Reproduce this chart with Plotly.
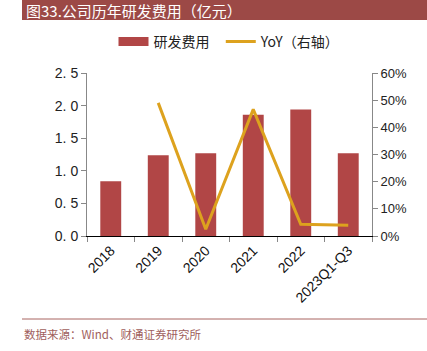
import plotly.graph_objects as go

categories = ["2018", "2019", "2020", "2021", "2022", "2023Q1-Q3"]
rd_expense = [0.84, 1.24, 1.27, 1.86, 1.94, 1.27]
yoy_cats = ["2019", "2020", "2021", "2022", "2023Q1-Q3"]
yoy_pct = [49.0, 2.5, 46.6, 4.3, 4.0]
left_ticks = [0, 0.5, 1.0, 1.5, 2.0, 2.5]
left_ticktext = ["0. 0", "0. 5", "1. 0", "1. 5", "2. 0", "2. 5"]
right_ticks = [0, 10, 20, 30, 40, 50, 60]
right_ticktext = ["0%", "10%", "20%", "30%", "40%", "50%", "60%"]

FONT = "Liberation Sans, Arial, sans-serif"
CJK = "Noto Sans CJK SC"
BAR_COLOR = "#B14646"

fig = go.Figure()
fig.add_trace(go.Bar(
    x=categories, y=rd_expense, name="研发费用", showlegend=False,
    marker=dict(color=BAR_COLOR, line=dict(width=0)), width=0.44,
))
# legend swatch for the bars (wide rectangle as in the reference)
fig.add_trace(go.Scatter(
    x=[None], y=[None], name="研发费用  ", mode="lines",
    line=dict(color=BAR_COLOR, width=9),
))
fig.add_trace(go.Scatter(
    x=yoy_cats, y=yoy_pct, name="YoY（右轴）", yaxis="y2", mode="lines",
    line=dict(color="#DDA21E", width=3),
))

fig.update_layout(
    width=427, height=351,
    margin=dict(l=87, r=55, t=73, b=115, autoexpand=False),
    paper_bgcolor="white", plot_bgcolor="white",
    showlegend=True,
    legend=dict(orientation="h", x=0.5, xanchor="center", y=1 - 42/351, yref="container",
                yanchor="middle", font=dict(family=CJK, size=14, color="#222"),
                itemwidth=30, tracegroupgap=0, bgcolor="rgba(0,0,0,0)"),
    xaxis=dict(
        type="category", showline=True, linecolor="#000", linewidth=1,
        ticks="outside", tickson="boundaries", ticklen=5, tickcolor="#888",
        tickangle=-45, tickfont=dict(family=FONT, size=14, color="#111"),
        showgrid=False, zeroline=False,
    ),
    yaxis=dict(
        range=[0, 2.5], tickvals=left_ticks, ticktext=left_ticktext,
        showline=True, linecolor="#888", linewidth=1, ticks="outside", ticklen=5,
        tickcolor="#888", tickfont=dict(family=FONT, size=14, color="#222"),
        showgrid=False, zeroline=False,
    ),
    yaxis2=dict(
        range=[0, 60], tickvals=right_ticks, ticktext=right_ticktext,
        overlaying="y", side="right",
        showline=True, linecolor="#888", linewidth=1, ticks="outside", ticklen=5,
        tickcolor="#888", tickfont=dict(family=FONT, size=13, color="#222"),
        showgrid=False, zeroline=False,
    ),
    shapes=[
        dict(type="rect", xref="paper", yref="paper", x0=-65/285, x1=340/285,
             y0=(236-20)/163, y1=236/163 + 0.02,
             fillcolor="#9C4946", line=dict(width=0), layer="below"),
        dict(type="line", xref="paper", yref="paper", x0=-65/285, x1=340/285,
             y0=(236-319)/163, y1=(236-319)/163,
             line=dict(color="#A86560", width=1)),
    ],
    annotations=[
        dict(text="图33.公司历年研发费用（亿元）", xref="paper", yref="paper",
             x=-63/285, y=(236-10.5)/163, xanchor="left", yanchor="middle",
             showarrow=False, font=dict(family=CJK, size=15, color="white")),
        dict(text="数据来源：Wind、财通证券研究所", xref="paper", yref="paper",
             x=-65/285, y=(236-334)/163, xanchor="left", yanchor="middle",
             showarrow=False, font=dict(family=CJK, size=11.5, color="#A0605C")),
    ],
)

fig.write_html("out.html")
